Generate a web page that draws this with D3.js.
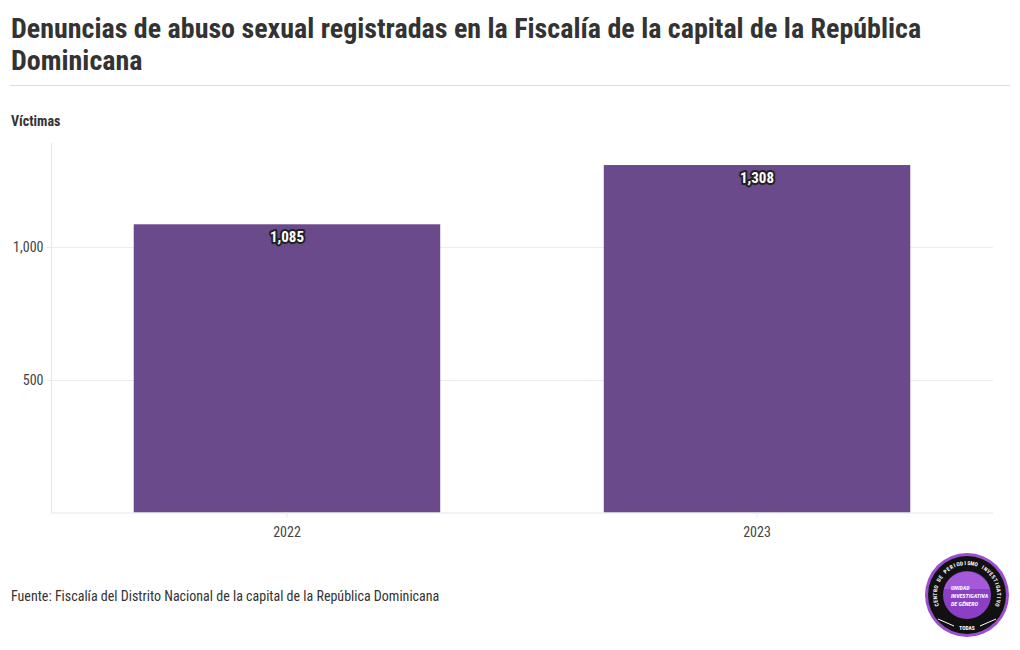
<!DOCTYPE html>
<html><head><meta charset="utf-8">
<script src="https://cdn.jsdelivr.net/npm/d3@7"></script>
<style>
body{margin:0;background:#fff;}
text{font-family:"Roboto Condensed","Liberation Sans Narrow","Roboto",sans-serif;}
</style></head>
<body><svg id="c" width="1020" height="650"></svg>
<script>
const categories = ["2022", "2023"];
const values = [1085, 1308];
const yTicks = [500, 1000];
const titleLines = ["Denuncias de abuso sexual registradas en la Fiscalía de la capital de la República", "Dominicana"];
const yLabel = "Víctimas";
const source = "Fuente: Fiscalía del Distrito Nacional de la capital de la República Dominicana";

const svg = d3.select("#c");
const font = '"Roboto Condensed","Liberation Sans Narrow","Roboto",sans-serif';

svg.selectAll("text.title").data(titleLines).join("text")
  .attr("x", 11).attr("y", (d,i)=>38+i*32)
  .attr("font-size", 28).attr("font-weight", 700).attr("fill", "#333")
  .text(d=>d);
svg.append("line").attr("x1",10).attr("x2",1010).attr("y1",85.5).attr("y2",85.5).attr("stroke","#ddd");
svg.append("text").attr("x",11).attr("y",126).attr("font-size",14).attr("font-weight",700).attr("fill","#333").text(yLabel);

const L=51, R=993, T=143, B=512.5;
const x = d3.scaleBand().domain(categories).range([L,R]).paddingInner(0.348).paddingOuter(0.176);
const y = d3.scaleLinear().domain([0,1391]).range([B,T]);

// grid
svg.append("g").selectAll("line").data(yTicks).join("line")
  .attr("x1",L).attr("x2",R).attr("y1",d=>Math.round(y(d))+0.5).attr("y2",d=>Math.round(y(d))+0.5)
  .attr("stroke","#ececec");
// y axis
const ya = svg.append("g").attr("transform",`translate(${L+0.5},0)`)
  .call(d3.axisLeft(y).tickValues(yTicks).tickSize(5).tickFormat(d3.format(",")));
ya.select(".domain").remove();
ya.append("line").attr("y1",T).attr("y2",B).attr("stroke","#e6e6e6");
ya.selectAll(".tick line").attr("stroke","#e6e6e6");
ya.selectAll(".tick text").attr("font-family",font).attr("font-size",14).attr("fill","#444").attr("x",-8);

// bars
svg.append("g").selectAll("rect").data(values).join("rect")
  .attr("x",(d,i)=>x(categories[i])).attr("width",x.bandwidth())
  .attr("y",d=>y(d)).attr("height",d=>B-y(d)).attr("fill","#6a4a8a");

// x axis
const xa = svg.append("g").attr("transform",`translate(0,${B})`)
  .call(d3.axisBottom(x).tickSize(5));
xa.select(".domain").attr("stroke","#e6e6e6").attr("d",`M${L},0.5H${R}`);
xa.selectAll(".tick line").attr("stroke","#e6e6e6");
xa.selectAll(".tick text").attr("font-family",font).attr("font-size",14).attr("fill","#444").attr("dy","1.2em");

// value labels
svg.append("g").selectAll("text").data(values).join("text")
  .attr("x",(d,i)=>x(categories[i])+x.bandwidth()/2).attr("y",d=>y(d)+18)
  .attr("text-anchor","middle").attr("font-size",15).attr("font-weight",700)
  .attr("fill","#fff").attr("stroke","#222").attr("stroke-width",4).attr("stroke-linejoin","round")
  .attr("paint-order","stroke").text(d=>d3.format(",")(d));

svg.append("text").attr("x",11).attr("y",601).attr("font-size",14).attr("fill","#333").text(source);

// logo
const g = svg.append("g").attr("transform","translate(967,595)");
g.append("circle").attr("r",42).attr("fill","#9b4fd0");
g.append("circle").attr("r",39).attr("fill","#111");
g.append("circle").attr("r",24).attr("fill","#8a3fc4");
g.append("path").attr("d","M-23,-6 A24,24 0 0,1 23,-6 Z").attr("fill","#a45ad8");
["UNIDAD","INVESTIGATIVA","DE GÉNERO"].forEach((t,i)=>g.append("text").attr("x",-16).attr("y",-5+i*8).attr("font-size",6).attr("font-style","italic").attr("font-weight",700).attr("fill","#fff").text(t));
g.append("text").attr("y",35).attr("text-anchor","middle").attr("font-size",5.5).attr("font-weight",700).attr("fill","#fff").text("TODAS");
const arcText = "CENTRO DE PERIODISMO INVESTIGATIVO".split("");
const a0 = -108, a1 = 108, rr = 32;
arcText.forEach((ch,i)=>{
  const a = a0 + (a1-a0)*i/(arcText.length-1);
  const rad = (a-90)*Math.PI/180;
  g.append("text").attr("transform",`translate(${rr*Math.cos(rad)},${rr*Math.sin(rad)}) rotate(${a})`)
    .attr("text-anchor","middle").attr("dy","0.35em").attr("font-size",5.5).attr("font-weight",700).attr("fill","#fff").text(ch);
});
g.append("line").attr("x1",-29).attr("x2",-13).attr("y1",24).attr("y2",31).attr("stroke","#fff").attr("stroke-width",1);
g.append("line").attr("x1",29).attr("x2",13).attr("y1",24).attr("y2",31).attr("stroke","#fff").attr("stroke-width",1);
</script></body></html>
